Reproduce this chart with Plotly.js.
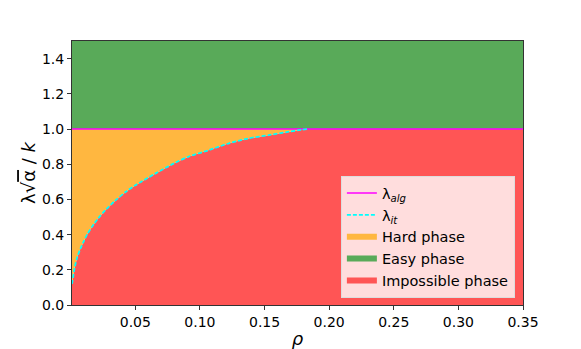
<!DOCTYPE html>
<html>
<head>
<meta charset="utf-8">
<script src="https://cdn.plot.ly/plotly-3.0.1.min.js"></script>
<style>
  body { margin: 0; background: #fff; }
  #chart { width: 581px; height: 349px; }
</style>
</head>
<body>
<div id="chart"></div>
<script>
// threshold curve
const rho = [0.001, 0.0015, 0.003, 0.005, 0.0075, 0.010, 0.013, 0.018, 0.021, 0.027,
             0.034, 0.043, 0.050, 0.065, 0.080, 0.092, 0.107, 0.123, 0.138, 0.154,
             0.169, 0.179, 0.183];
const lamIt = [0.12, 0.14, 0.21, 0.27, 0.32, 0.36, 0.405, 0.46, 0.49, 0.54,
               0.59, 0.645, 0.68, 0.745, 0.805, 0.845, 0.88, 0.92, 0.947, 0.966,
               0.985, 0.996, 1.0];
const rhoRange = [0.001, 0.35];
const lamAlg = [1.0, 1.0];
const yTop = [1.5, 1.5];

const xTicks = [0.05, 0.10, 0.15, 0.20, 0.25, 0.30, 0.35];
const yTicks = [0.0, 0.2, 0.4, 0.6, 0.8, 1.0, 1.2, 1.4];

const FONT = "DejaVu Sans, sans-serif";

function makePlot(id) {
    // boundary of impossible region = lamIt then flat at 1
    let xb = rho.concat([rhoRange[1]]);
    let yb = lamIt.concat([lamAlg[1]]);
    let ones = xb.map(function(){ return lamAlg[0]; });

    let impossible = {
        x: xb, y: yb, type: "scatter", mode: "none",
        fill: "tozeroy", fillcolor: "rgb(255,85,85)",
        name: "Impossible phase", legendrank: 5,
    };
    let hard = {
        x: xb, y: ones, type: "scatter", mode: "none",
        fill: "tonexty", fillcolor: "rgb(255,183,64)",
        name: "Hard phase", legendrank: 3,
    };
    let easy = {
        x: rhoRange, y: yTop, type: "scatter", mode: "none",
        fill: "tonexty", fillcolor: "rgb(89,170,89)",
        name: "Easy phase", legendrank: 4,
    };
    let alg = {
        x: rhoRange, y: lamAlg, type: "scatter", mode: "lines",
        line: {color: "magenta", width: 1.5},
        name: "λ<sub><i>alg</i></sub>", legendrank: 1,
    };
    let it = {
        x: rho, y: lamIt, type: "scatter", mode: "lines",
        line: {color: "cyan", width: 1.8, dash: "4px,2px", shape: "spline", smoothing: 0.8},
        name: "λ<sub><i>it</i></sub>", legendrank: 2,
    };

    let layout = {
        width: 581, height: 349,
        margin: {l: 72, r: 58, t: 41, b: 44},
        paper_bgcolor: "#fff",
        plot_bgcolor: "#fff",
        font: {family: FONT, size: 14, color: "#000"},
        showlegend: true,
        legend: {
            x: 0.982, y: 0.026, xanchor: "right", yanchor: "bottom",
            traceorder: "normal",
            bgcolor: "rgba(255,255,255,0.8)",
            bordercolor: "#ddd", borderwidth: 1,
            font: {family: FONT, size: 14.5},
            tracegroupgap: 0,
        },
        xaxis: {
            range: rhoRange,
            tickvals: xTicks,
            ticktext: xTicks.map(function(v){ return v.toFixed(2); }),
            ticks: "outside", ticklen: 4, tickcolor: "#333",
            showline: true, linecolor: "#333", linewidth: 1, mirror: true,
            showgrid: false, zeroline: false,
            title: {text: "<i>ρ</i>", font: {size: 18}, standoff: 4},
        },
        yaxis: {
            range: [0, 1.5],
            tickvals: yTicks,
            ticktext: yTicks.map(function(v){ return v.toFixed(1); }),
            ticks: "outside", ticklen: 4, tickcolor: "#333",
            showline: true, linecolor: "#333", linewidth: 1, mirror: true,
            showgrid: false, zeroline: false,
            title: {
                text: "λ√<span style='text-decoration:overline'>α</span> / <i>k</i>",
                font: {size: 18}, standoff: 1,
            },
        },
    };

    Plotly.newPlot(id, [impossible, hard, easy, alg, it], layout, {staticPlot: true});
}

makePlot("chart");
</script>
</body>
</html>
